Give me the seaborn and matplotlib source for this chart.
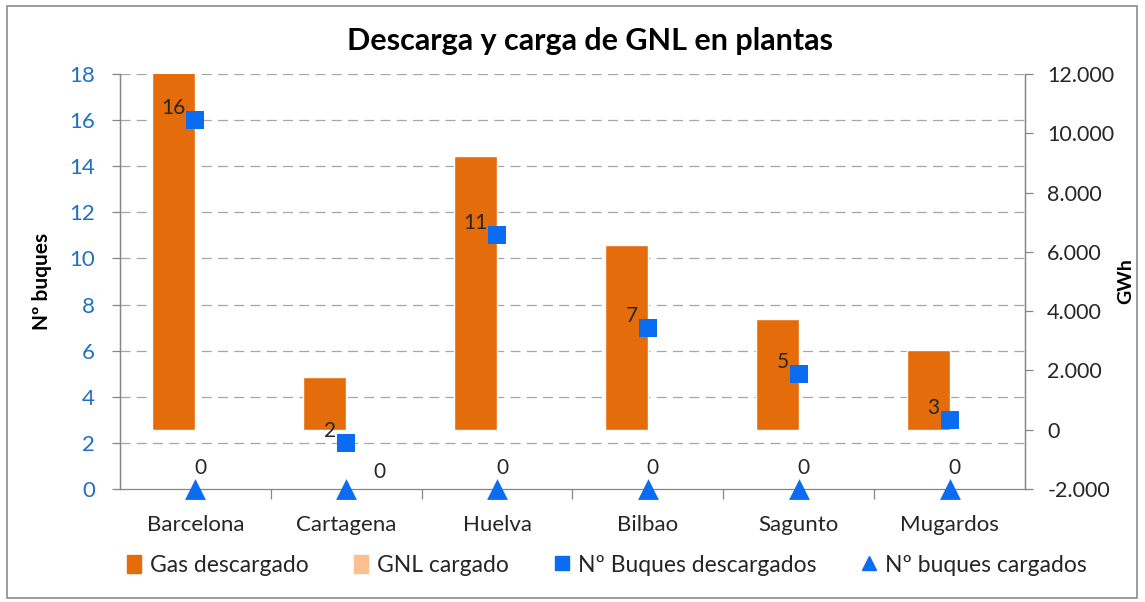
import numpy as np
import pandas as pd
import seaborn as sns
import matplotlib.pyplot as plt
from matplotlib.lines import Line2D
from matplotlib.patches import Patch, Rectangle
from matplotlib.ticker import FuncFormatter, MultipleLocator, FixedLocator

# Data
plantas = ["Barcelona", "Cartagena", "Huelva", "Bilbao", "Sagunto", "Mugardos"]
gas_descargado = [12400, 1780, 9230, 6230, 3730, 2700]   # GWh
gnl_cargado = [0, 25, 0, 0, 0, 0]                         # GWh
buques_descargados = [16, 2, 11, 7, 5, 3]
buques_cargados = [0, 0, 0, 0, 0, 0]

c_gas = "#E46C0A"
c_gnl = "#FAC090"
c_blue = "#0A6CF0"
c_axis = "#868686"

sns.set_theme(style="white")
plt.rcParams['font.family'] = ['Lato', 'DejaVu Sans']

fig = plt.figure(figsize=(11.45, 6.02), dpi=100)
ax = fig.add_axes([0.1048, 0.1877, 0.7904, 0.6893])   # GWh axis (bars)
ax2 = ax.twinx()                                       # buques axis (markers)

gwh_min, gwh_max = -2000, 12000
b_min, b_max = 0, 18

# bars
df = pd.DataFrame({
    "planta": plantas * 2,
    "serie": ["Gas descargado"] * len(plantas) + ["GNL cargado"] * len(plantas),
    "gwh": gas_descargado + gnl_cargado,
})
sns.barplot(data=df, x="planta", y="gwh", hue="serie", order=plantas,
            hue_order=["Gas descargado", "GNL cargado"],
            palette=[c_gas, c_gnl], width=0.57, saturation=1, ax=ax,
            legend=False, zorder=2)
ax.set_ylim(gwh_min, gwh_max)
ax.set_xlim(-0.5, len(plantas) - 0.5)

# gridlines at the buques ticks, drawn behind the bars
for b in range(2, 19, 2):
    g = gwh_min + (b - b_min) * (gwh_max - gwh_min) / (b_max - b_min)
    ax.axhline(g, color="#A6A6A6", lw=0.9, ls=(0, (8, 5)), zorder=0)

# markers
sns.stripplot(x=plantas, y=buques_descargados, order=plantas, marker="s",
              size=13, color=c_blue, jitter=False, ax=ax2, zorder=4,
              linewidth=0)
sns.stripplot(x=plantas, y=buques_cargados, order=plantas, marker="^",
              size=15, color=c_blue, jitter=False, ax=ax2, zorder=4,
              linewidth=0)
for coll in ax2.collections:
    coll.set_clip_on(False)
ax2.set_ylim(b_min, b_max)
ax2.set_xlim(-0.5, len(plantas) - 0.5)

# data labels
for i, v in enumerate(buques_descargados):
    ax2.annotate(str(v), (i, v), xytext=(-10, 12), textcoords="offset pixels",
                 ha="right", va="center", fontsize=15, color="#262626")
for i, v in enumerate(buques_cargados):
    off = (33, 17) if gnl_cargado[i] > 0 else (5, 21)
    ax2.annotate(str(v), (i, v), xytext=off, textcoords="offset pixels",
                 ha="center", va="center", fontsize=15, color="#262626")

# axis placement: buques on left, GWh on right
ax.yaxis.tick_right()
ax.yaxis.set_label_position("right")
ax2.yaxis.tick_left()
ax2.yaxis.set_label_position("left")

ax.yaxis.set_major_locator(MultipleLocator(2000))
ax.yaxis.set_major_formatter(FuncFormatter(lambda v, p: f"{v:,.0f}".replace(",", ".")))
ax2.yaxis.set_major_locator(MultipleLocator(2))

ax.tick_params(axis="y", labelsize=15.5, colors="#262626", length=6,
               width=0.9, direction="out", pad=10, color=c_axis)
ax2.tick_params(axis="y", labelsize=16, labelcolor="#1F6FC5", length=6,
                width=0.9, direction="out", pad=12, color=c_axis)
for lab in ax.get_yticklabels():
    lab.set_color("#262626")

ax.set_xlabel("")
ax2.set_xlabel("")
ax.set_ylabel("GWh", fontsize=14, fontweight="bold", color="black",
              labelpad=2, rotation=90)
ax2.set_ylabel("Nº buques", fontsize=15, fontweight="bold", color="black", labelpad=12)

# x axis: labels at centres, ticks between categories
ax.tick_params(axis="x", which="major", length=0, labelsize=16,
               colors="#262626", pad=19)
ax.xaxis.set_minor_locator(FixedLocator(np.arange(0.5, len(plantas) - 0.5, 1)))
ax.tick_params(axis="x", which="minor", length=7, width=0.9, color=c_axis,
               direction="out", bottom=True)
ax2.tick_params(axis="x", length=0)

for a in (ax, ax2):
    a.spines["top"].set_visible(False)
    for s in ("left", "right", "bottom"):
        a.spines[s].set_color(c_axis)
        a.spines[s].set_linewidth(0.9)
ax.spines["bottom"].set_visible(False)
ax2.spines["bottom"].set_visible(True)
ax2.patch.set_visible(False)
ax.set_facecolor("white")

fig.suptitle("Descarga y carga de GNL en plantas", x=0.515, y=0.955,
             fontsize=22, fontweight="bold", color="black")

handles = [
    Patch(color=c_gas, label="Gas descargado"),
    Patch(color=c_gnl, label="GNL cargado"),
    Line2D([], [], marker="s", ls="none", color=c_blue, markersize=10,
           label="Nº Buques descargados"),
    Line2D([], [], marker="^", ls="none", color=c_blue, markersize=10,
           label="Nº buques cargados"),
]
fig.legend(handles=handles, loc="center", bbox_to_anchor=(0.53, 0.061),
           ncol=4, frameon=False, fontsize=16.5, handlelength=0.6,
           handleheight=0.8, handletextpad=0.4, columnspacing=2.0,
           labelcolor="#262626")

fig.patches.append(Rectangle((0.006, 0.007), 0.987, 0.983,
                             transform=fig.transFigure, fill=False,
                             edgecolor="#8C8C8C", lw=1.2))

fig.savefig("out.png", dpi=100)
